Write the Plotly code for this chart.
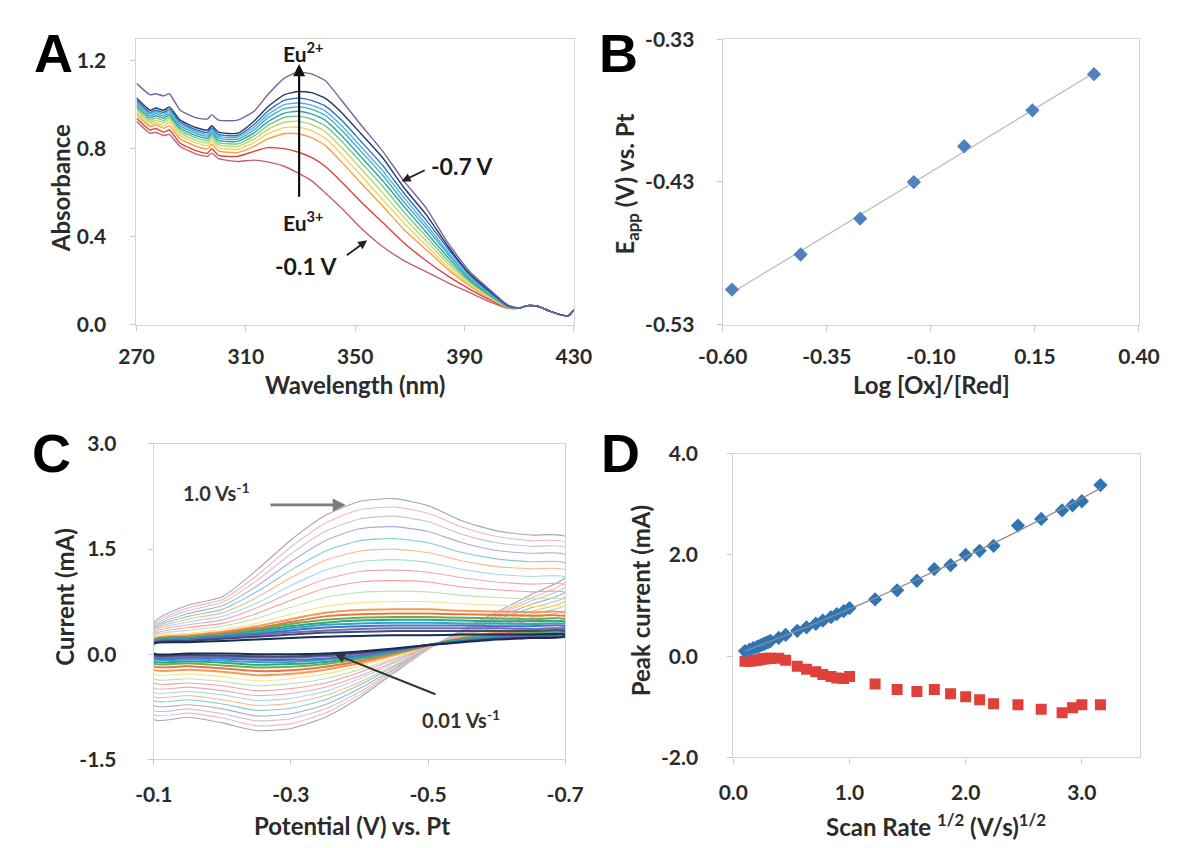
import numpy as np
import plotly.graph_objects as go

W, H = 1184, 848

# ---------------- Panel A : UV-vis spectra ----------------
wl = [270, 275, 277, 280, 282, 286, 292, 296, 297.5, 300, 307, 313, 318, 324, 329, 334, 339, 345,
      352, 360, 368, 376, 384, 392, 400, 406]
wl_tail = [410, 413, 417, 421, 425, 428, 430]
abs_tail = [0.075, 0.086, 0.082, 0.062, 0.045, 0.040, 0.066]

abs_m07 = [1.097, 1.045, 1.05, 1.04, 1.05, 0.975, 0.94, 0.935, 0.955, 0.93, 0.93, 0.97, 1.045, 1.12, 1.148, 1.14, 1.11, 1.02, 0.91, 0.79, 0.65, 0.53, 0.37, 0.24, 0.15, 0.088]
abs_n1 = [1.03, 0.975, 0.985, 0.975, 0.99, 0.93, 0.895, 0.885, 0.905, 0.875, 0.87, 0.925, 0.99, 1.045, 1.06, 1.055, 1.03, 0.965, 0.87, 0.76, 0.62, 0.50, 0.355, 0.23, 0.145, 0.085]
abs_k0 = [1.02, 0.965, 0.975, 0.965, 0.98, 0.92, 0.885, 0.875, 0.895, 0.865, 0.86, 0.91, 0.97, 1.02, 1.03, 1.02, 0.995, 0.93, 0.835, 0.725, 0.595, 0.475, 0.345, 0.225, 0.14, 0.085]
abs_k1 = [1.012, 0.958, 0.968, 0.957, 0.972, 0.912, 0.877, 0.867, 0.887, 0.857, 0.852, 0.897, 0.955, 1.0, 1.008, 0.998, 0.972, 0.905, 0.81, 0.70, 0.575, 0.455, 0.33, 0.217, 0.135, 0.083]
abs_k2 = [1.005, 0.95, 0.96, 0.948, 0.963, 0.903, 0.868, 0.858, 0.878, 0.848, 0.843, 0.885, 0.94, 0.982, 0.99, 0.98, 0.952, 0.885, 0.79, 0.68, 0.555, 0.44, 0.32, 0.21, 0.132, 0.081]
abs_k3 = [0.995, 0.94, 0.95, 0.938, 0.953, 0.893, 0.858, 0.848, 0.868, 0.838, 0.833, 0.872, 0.922, 0.962, 0.97, 0.958, 0.93, 0.86, 0.765, 0.655, 0.535, 0.42, 0.305, 0.202, 0.128, 0.08]
abs_k4 = [0.985, 0.93, 0.94, 0.928, 0.943, 0.883, 0.848, 0.838, 0.858, 0.828, 0.822, 0.858, 0.905, 0.942, 0.948, 0.935, 0.905, 0.835, 0.74, 0.63, 0.51, 0.40, 0.29, 0.195, 0.125, 0.079]
abs_k5 = [0.975, 0.92, 0.93, 0.918, 0.932, 0.872, 0.837, 0.827, 0.847, 0.817, 0.81, 0.843, 0.887, 0.92, 0.925, 0.91, 0.878, 0.805, 0.71, 0.60, 0.485, 0.38, 0.277, 0.19, 0.122, 0.078]
abs_k6 = [0.965, 0.91, 0.92, 0.905, 0.92, 0.86, 0.825, 0.815, 0.835, 0.805, 0.797, 0.828, 0.868, 0.896, 0.898, 0.882, 0.848, 0.775, 0.68, 0.57, 0.46, 0.36, 0.262, 0.182, 0.118, 0.077]
abs_k7 = [0.955, 0.90, 0.91, 0.893, 0.905, 0.845, 0.81, 0.80, 0.82, 0.79, 0.782, 0.81, 0.845, 0.868, 0.868, 0.85, 0.815, 0.74, 0.645, 0.54, 0.43, 0.34, 0.25, 0.175, 0.114, 0.076]
abs_k8 = [0.94, 0.885, 0.892, 0.875, 0.885, 0.825, 0.79, 0.78, 0.80, 0.77, 0.765, 0.788, 0.805, 0.80, 0.785, 0.76, 0.72, 0.65, 0.56, 0.465, 0.37, 0.29, 0.22, 0.16, 0.108, 0.075]
abs_m01 = [0.925, 0.87, 0.875, 0.86, 0.865, 0.81, 0.775, 0.765, 0.78, 0.755, 0.742, 0.748, 0.74, 0.72, 0.69, 0.655, 0.60, 0.53, 0.44, 0.355, 0.29, 0.24, 0.19, 0.145, 0.10, 0.074]

spectra = [abs_m01, abs_k8, abs_k7, abs_k6, abs_k5, abs_k4, abs_k3, abs_k2, abs_k1, abs_k0, abs_n1, abs_m07]
spec_colors = ["#C0607A", "#D9453C", "#F4A04A", "#F5D25A", "#B8D86B", "#76C893",
               "#2EA398", "#38B2C8", "#5DADE2", "#2E74B5", "#1F3864", "#7E5FA0"]

# ---------------- Panel B : Nernst plot ----------------
log_ratio = [-0.578, -0.413, -0.270, -0.141, -0.020, 0.144, 0.292]
e_app = [-0.5055, -0.4809, -0.4557, -0.4301, -0.4050, -0.3798, -0.3545]

# ---------------- Panel C : cyclic voltammograms ----------------
potential = [-0.10, -0.15, -0.20, -0.25, -0.30, -0.35, -0.40, -0.45, -0.50, -0.55, -0.60, -0.65, -0.70]
cv_upper = [
    [0.45, 0.70, 0.82, 1.20, 1.63, 1.98, 2.18, 2.22, 2.12, 1.90, 1.76, 1.70, 1.68],
    [0.42, 0.66, 0.78, 1.12, 1.53, 1.87, 2.06, 2.10, 2.01, 1.81, 1.68, 1.62, 1.60],
    [0.40, 0.62, 0.74, 1.05, 1.43, 1.75, 1.93, 1.97, 1.89, 1.71, 1.59, 1.54, 1.52],
    [0.38, 0.58, 0.69, 0.97, 1.32, 1.62, 1.79, 1.82, 1.75, 1.59, 1.48, 1.44, 1.42],
    [0.36, 0.54, 0.64, 0.89, 1.20, 1.47, 1.62, 1.65, 1.59, 1.45, 1.36, 1.32, 1.30],
    [0.34, 0.50, 0.59, 0.81, 1.09, 1.34, 1.47, 1.50, 1.45, 1.33, 1.25, 1.22, 1.20],
    [0.32, 0.46, 0.54, 0.73, 0.98, 1.20, 1.32, 1.35, 1.31, 1.21, 1.14, 1.11, 1.10],
    [0.30, 0.42, 0.49, 0.66, 0.88, 1.07, 1.18, 1.20, 1.17, 1.09, 1.03, 1.00, 0.99],
    [0.28, 0.38, 0.44, 0.58, 0.77, 0.94, 1.03, 1.05, 1.03, 0.96, 0.92, 0.89, 0.88],
    [0.26, 0.34, 0.40, 0.51, 0.67, 0.81, 0.88, 0.90, 0.89, 0.84, 0.81, 0.79, 0.78],
    [0.24, 0.30, 0.35, 0.44, 0.57, 0.68, 0.74, 0.75, 0.75, 0.72, 0.70, 0.68, 0.67],
    [0.22, 0.27, 0.32, 0.40, 0.50, 0.59, 0.63, 0.64, 0.64, 0.62, 0.61, 0.60, 0.59],
    [0.21, 0.25, 0.30, 0.37, 0.46, 0.54, 0.57, 0.58, 0.58, 0.57, 0.56, 0.55, 0.54],
    [0.20, 0.24, 0.28, 0.35, 0.43, 0.49, 0.52, 0.53, 0.53, 0.52, 0.51, 0.50, 0.50],
    [0.19, 0.23, 0.27, 0.33, 0.40, 0.45, 0.48, 0.49, 0.49, 0.48, 0.47, 0.47, 0.46],
    [0.18, 0.22, 0.26, 0.31, 0.37, 0.42, 0.44, 0.45, 0.45, 0.44, 0.44, 0.43, 0.43],
    [0.17, 0.21, 0.25, 0.29, 0.34, 0.38, 0.40, 0.41, 0.41, 0.41, 0.40, 0.40, 0.40],
    [0.17, 0.20, 0.23, 0.27, 0.31, 0.34, 0.36, 0.37, 0.37, 0.37, 0.37, 0.36, 0.36],
    [0.16, 0.19, 0.22, 0.25, 0.28, 0.31, 0.32, 0.33, 0.33, 0.33, 0.33, 0.33, 0.33],
    [0.15, 0.17, 0.19, 0.21, 0.23, 0.25, 0.26, 0.27, 0.27, 0.28, 0.28, 0.28, 0.28],
]
cv_lower = [
    [-0.93, -0.90, -0.98, -1.09, -1.06, -0.90, -0.62, -0.27, 0.07, 0.35, 0.60, 0.85, 1.10],
    [-0.86, -0.84, -0.91, -1.02, -0.99, -0.84, -0.58, -0.25, 0.07, 0.34, 0.57, 0.80, 1.03],
    [-0.80, -0.78, -0.85, -0.95, -0.92, -0.78, -0.54, -0.23, 0.08, 0.33, 0.55, 0.76, 0.96],
    [-0.73, -0.72, -0.78, -0.88, -0.85, -0.72, -0.49, -0.21, 0.08, 0.32, 0.52, 0.71, 0.89],
    [-0.66, -0.65, -0.71, -0.80, -0.77, -0.65, -0.44, -0.18, 0.08, 0.31, 0.49, 0.66, 0.82],
    [-0.60, -0.59, -0.65, -0.73, -0.70, -0.59, -0.40, -0.16, 0.09, 0.30, 0.46, 0.61, 0.76],
    [-0.54, -0.53, -0.58, -0.66, -0.63, -0.53, -0.35, -0.13, 0.09, 0.29, 0.44, 0.57, 0.70],
    [-0.48, -0.47, -0.52, -0.59, -0.56, -0.47, -0.31, -0.11, 0.10, 0.28, 0.41, 0.52, 0.63],
    [-0.41, -0.41, -0.45, -0.52, -0.49, -0.41, -0.26, -0.08, 0.10, 0.27, 0.38, 0.48, 0.57],
    [-0.35, -0.35, -0.39, -0.45, -0.42, -0.35, -0.22, -0.06, 0.11, 0.26, 0.36, 0.44, 0.51],
    [-0.28, -0.28, -0.32, -0.38, -0.35, -0.28, -0.17, -0.03, 0.11, 0.25, 0.33, 0.40, 0.45],
    [-0.22, -0.22, -0.25, -0.30, -0.28, -0.22, -0.13, -0.01, 0.12, 0.24, 0.31, 0.36, 0.40],
    [-0.17, -0.17, -0.20, -0.24, -0.23, -0.18, -0.10, 0.01, 0.12, 0.23, 0.29, 0.33, 0.37],
    [-0.13, -0.13, -0.16, -0.19, -0.18, -0.14, -0.07, 0.02, 0.13, 0.22, 0.28, 0.31, 0.34],
    [-0.10, -0.10, -0.12, -0.15, -0.14, -0.11, -0.05, 0.03, 0.13, 0.21, 0.26, 0.29, 0.32],
    [-0.07, -0.07, -0.09, -0.11, -0.11, -0.08, -0.03, 0.04, 0.13, 0.20, 0.25, 0.28, 0.30],
    [-0.05, -0.05, -0.06, -0.08, -0.08, -0.06, -0.02, 0.05, 0.13, 0.19, 0.24, 0.27, 0.29],
    [-0.03, -0.03, -0.04, -0.05, -0.05, -0.03, 0.00, 0.06, 0.13, 0.18, 0.23, 0.25, 0.27],
    [-0.01, -0.01, -0.02, -0.03, -0.03, -0.01, 0.02, 0.07, 0.13, 0.18, 0.22, 0.24, 0.26],
    [0.01, 0.01, 0.01, 0.00, 0.00, 0.01, 0.04, 0.08, 0.13, 0.17, 0.21, 0.23, 0.25],
]
cv_colors = ["#A3AAB4", "#F4B6C2", "#C8C8C8", "#B4A7D6", "#7FCDC4", "#F9B98F", "#A6DCEB",
             "#F2A7B8", "#F4A09A", "#C5E0B4", "#FFE08A", "#F39C50", "#E8734A", "#6DAF45",
             "#2CA58D", "#31A6C9", "#4472C4", "#7B68AE", "#3B4E7A", "#1B2A50"]

# ---------------- Panel D : peak current vs sqrt(scan rate) ----------------
sqrt_rate = [0.10, 0.14, 0.17, 0.20, 0.22, 0.24, 0.26, 0.28, 0.30, 0.32, 0.39, 0.45, 0.55, 0.63,
             0.71, 0.77, 0.84, 0.89, 0.95, 1.00, 1.22, 1.41, 1.58, 1.73, 1.87, 2.00, 2.12, 2.24,
             2.45, 2.65, 2.83, 2.92, 3.00, 3.16]
ipa = [0.10, 0.13, 0.16, 0.18, 0.20, 0.22, 0.24, 0.26, 0.28, 0.30, 0.36, 0.42, 0.50, 0.57,
       0.64, 0.70, 0.77, 0.83, 0.89, 0.95, 1.12, 1.30, 1.49, 1.72, 1.80, 2.00, 2.08, 2.18,
       2.58, 2.71, 2.88, 2.98, 3.06, 3.38]
ipc = [-0.10, -0.10, -0.09, -0.08, -0.07, -0.06, -0.05, -0.05, -0.04, -0.04, -0.04, -0.08, -0.20, -0.26,
       -0.31, -0.36, -0.40, -0.43, -0.44, -0.40, -0.55, -0.66, -0.70, -0.66, -0.74, -0.80, -0.86, -0.94,
       -0.96, -1.05, -1.12, -1.02, -0.96, -0.96]

# ---------------- figure ----------------
FONT = "Lato"
TXT = "#2b2b2b"


def px_x(p):
    return p / W


def px_y(p):
    return 1 - p / H


def axis(domain, rng, tickvals, ticktext, anchor, standoff=8):
    return dict(domain=domain, range=rng, tickmode="array", tickvals=tickvals, ticktext=ticktext,
                showline=True, linecolor="#D4D4D4", linewidth=1.2, mirror=True,
                ticks="outside", ticklen=5, tickcolor="#C8C8C8", tickwidth=1.2,
                showgrid=False, zeroline=False, anchor=anchor, ticklabelstandoff=standoff,
                tickfont=dict(family=FONT, size=21, color=TXT, weight="bold"))


fig = go.Figure()

# A
for ys, col in zip(spectra, spec_colors):
    fig.add_trace(go.Scatter(x=wl + wl_tail, y=ys + abs_tail, mode="lines",
                             line=dict(color=col, width=1.4, shape="spline", smoothing=0.5),
                             xaxis="x", yaxis="y", hoverinfo="skip"))

# B
coef_b = np.polyfit(log_ratio, e_app, 1)
xb = np.array([log_ratio[0], log_ratio[-1]])
fig.add_trace(go.Scatter(x=xb, y=np.polyval(coef_b, xb), mode="lines",
                         line=dict(color="#BDBDBD", width=1.3), xaxis="x2", yaxis="y2"))
fig.add_trace(go.Scatter(x=log_ratio, y=e_app, mode="markers",
                         marker=dict(symbol="diamond", size=11, color="#4F81BD"),
                         xaxis="x2", yaxis="y2"))

# C
for i, (up, lo, col) in enumerate(zip(cv_upper, cv_lower, cv_colors)):
    xs = potential + potential[::-1] + [potential[0]]
    ys = up + lo[::-1] + [up[0]]
    w = 1.1 if i < 11 else 2.0
    fig.add_trace(go.Scatter(x=xs, y=ys, mode="lines",
                             line=dict(color=col, width=w, shape="spline", smoothing=0.6),
                             xaxis="x3", yaxis="y3", hoverinfo="skip"))

# D
coef_d = np.polyfit(sqrt_rate, ipa, 2)
xd = np.linspace(sqrt_rate[0], sqrt_rate[-1], 60)
fig.add_trace(go.Scatter(x=sqrt_rate, y=ipc, mode="markers",
                         marker=dict(symbol="square", size=11, color="#E0403A"),
                         xaxis="x4", yaxis="y4"))
fig.add_trace(go.Scatter(x=sqrt_rate, y=ipa, mode="markers",
                         marker=dict(symbol="diamond", size=11, color="#2E75B6"),
                         xaxis="x4", yaxis="y4"))
fig.add_trace(go.Scatter(x=xd, y=np.polyval(coef_d, xd), mode="lines",
                         line=dict(color="#8C8C8C", width=1.3), xaxis="x4", yaxis="y4"))

# axes (pixel-based domains)
fig.update_layout(
    xaxis=axis([px_x(116), px_x(571)], [270, 430], [270, 310, 350, 390, 430],
               ["270", "310", "350", "390", "430"], "y", 8),
    yaxis=axis([px_y(320), px_y(25.5)], [0, 1.3], [0, 0.4, 0.8, 1.2],
               ["0.0", "0.4", "0.8", "1.2"], "x", 20),
    xaxis2=axis([px_x(726), px_x(1159)], [-0.6, 0.4], [-0.6, -0.35, -0.1, 0.15, 0.4],
                ["-0.60", "-0.35", "-0.10", "0.15", "0.40"], "y2", 8),
    yaxis2=axis([px_y(320), px_y(26)], [-0.53, -0.33], [-0.53, -0.43, -0.33],
                ["-0.53", "-0.43", "-0.33"], "x2", 18),
    xaxis3=axis([px_x(134), px_x(562)], [-0.1, -0.7], [-0.1, -0.3, -0.5, -0.7],
                ["-0.1", "-0.3", "-0.5", "-0.7"], "y3", 11),
    yaxis3=axis([px_y(768), px_y(443)], [-1.5, 3.0], [-1.5, 0, 1.5, 3.0],
                ["-1.5", "0.0", "1.5", "3.0"], "x3", 27),
    xaxis4=axis([px_x(737), px_x(1160)], [0, 3.5], [0, 1, 2, 3],
                ["0.0", "1.0", "2.0", "3.0"], "y4", 11),
    yaxis4=axis([px_y(766), px_y(453)], [-2.0, 4.0], [-2, 0, 2, 4],
                ["-2.0", "0.0", "2.0", "4.0"], "x4", 25),
)

ann = []
# panel letters
for letter, cx, cy in [("A", 30, 40), ("B", 617, 40), ("C", 28, 452), ("D", 620, 452)]:
    ann.append(dict(text=letter, x=px_x(cx), y=px_y(cy), xref="paper", yref="paper",
                    xanchor="center", yanchor="middle", showarrow=False,
                    font=dict(family="Liberation Sans", size=54, color="black", weight="bold")))

# axis titles
tf = dict(family=FONT, size=24, color=TXT, weight="bold")
titles = [
    ("Absorbance", 37, 180, -90),
    ("Wavelength (nm)", 343, 382, 0),
    ("E<sub>app</sub> (V) vs. Pt", 626, 175, -90),
    ("Log [Ox]/[Red]", 943, 382, 0),
    ("Current (mA)", 41, 600, -90),
    ("Potential (V) vs. Pt", 340, 836, 0),
    ("Peak current (mA)", 640, 605, -90),
    ("Scan Rate <sup>1/2</sup> (V/s)<sup>1/2</sup>", 948, 836, 0),
]
for t, cx, cy, rot in titles:
    ann.append(dict(text=t, x=px_x(cx), y=px_y(cy), xref="paper", yref="paper",
                    xanchor="center", yanchor="middle", showarrow=False, textangle=rot, font=tf))

lab = dict(family=FONT, size=21, color="#1a1a1a", weight="bold")
# Panel A annotations
ann += [
    dict(x=329.5, y=1.185, ax=329.5, ay=0.574, xref="x", yref="y", axref="x", ayref="y",
         text="", showarrow=True, arrowhead=2, arrowsize=1.1, arrowwidth=2.2, arrowcolor="#111"),
    dict(x=331, y=1.24, xref="x", yref="y", text="Eu<sup>2+</sup>", showarrow=False, font=lab),
    dict(x=331, y=0.47, xref="x", yref="y", text="Eu<sup>3+</sup>", showarrow=False, font=lab),
    dict(x=389, y=0.72, xref="x", yref="y", text="-0.7 V", showarrow=False, font=dict(lab, size=23)),
    dict(x=367, y=0.651, ax=376, ay=0.705, xref="x", yref="y", axref="x", ayref="y",
         text="", showarrow=True, arrowhead=2, arrowsize=1, arrowwidth=1.8, arrowcolor="#222"),
    dict(x=332, y=0.268, xref="x", yref="y", text="-0.1 V", showarrow=False, font=dict(lab, size=23)),
    dict(x=354.4, y=0.383, ax=346.4, ay=0.31, xref="x", yref="y", axref="x", ayref="y",
         text="", showarrow=True, arrowhead=2, arrowsize=1, arrowwidth=1.8, arrowcolor="#222"),
]
# Panel C annotations
ann += [
    dict(x=-0.191, y=2.31, xref="x3", yref="y3", text="1.0 Vs<sup>-1</sup>", showarrow=False,
         font=dict(family=FONT, size=20, color="#333", weight="bold")),
    dict(x=-0.38, y=2.13, ax=-0.268, ay=2.13, xref="x3", yref="y3", axref="x3", ayref="y3",
         text="", showarrow=True, arrowhead=2, arrowsize=1, arrowwidth=2.6, arrowcolor="#7a7a7a"),
    dict(x=-0.548, y=-0.93, xref="x3", yref="y3", text="0.01 Vs<sup>-1</sup>", showarrow=False,
         font=dict(family=FONT, size=20, color="#333", weight="bold")),
    dict(x=-0.364, y=0.0, ax=-0.513, ay=-0.58, xref="x3", yref="y3", axref="x3", ayref="y3",
         text="", showarrow=True, arrowhead=2, arrowsize=1, arrowwidth=2, arrowcolor="#333"),
]

fig.update_layout(width=W, height=H, margin=dict(l=0, r=0, t=0, b=0),
                  paper_bgcolor="white", plot_bgcolor="white", showlegend=False,
                  annotations=ann)

fig.write_html("out.html")
